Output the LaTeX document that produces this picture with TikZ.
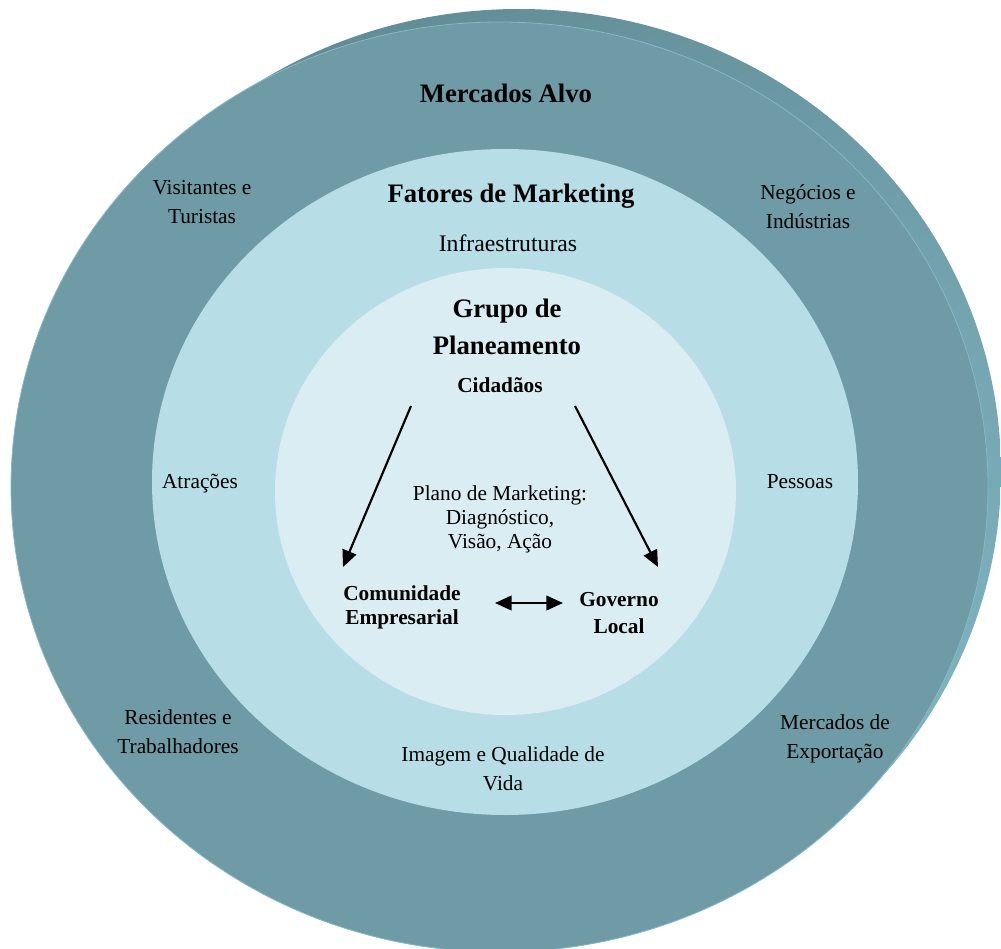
\documentclass[tikz,border=0pt]{standalone}
\usepackage{fontspec}
\setmainfont{Liberation Serif}
\usetikzlibrary{positioning,arrows.meta,shadings}

\definecolor{anelA}{HTML}{6F9BA7}
\definecolor{anelB}{HTML}{B7DDE7}
\definecolor{anelC}{HTML}{DAEDF3}
\definecolor{fundoE}{HTML}{5B858E}
\definecolor{fundoF}{HTML}{6C9AA4}
\definecolor{fundoG}{HTML}{84BAC7}

\tikzset{
  lbl/.style={align=center, inner sep=0pt, font=\fontsize{16}{21.75}\selectfont},
  hdr/.style={align=center, inner sep=0pt, font=\bfseries\fontsize{20}{27.75}\selectfont},
  bld/.style={align=center, inner sep=0pt, font=\bfseries\fontsize{16}{18}\selectfont},
  seta/.style={-{Triangle[length=12.5pt,width=11pt]}, line width=1.6pt},
  seta2/.style={{Triangle[length=12.5pt,width=11pt]}-{Triangle[length=12.5pt,width=11pt]}, line width=1.6pt},
}

\begin{document}
\begin{tikzpicture}[x=0.75pt,y=-0.75pt]
        \useasboundingbox (0,0) rectangle (1001,949);
        % aneis
        \shade[upper left=fundoE, upper right=fundoF,
               lower left=fundoG, lower right=fundoG]
          (519,472) ellipse [x radius=482, y radius=463];
        \filldraw[fill=anelA, draw=fundoG, line width=0.6pt] (499.5,487) ellipse [x radius=488.5, y radius=465];
        \fill[anelB] (505,482) ellipse [x radius=353, y radius=333];
        \fill[anelC] (505.5,491.5) ellipse [x radius=230.5, y radius=223.5];
        % textos
        \node[hdr] (alvo) at (506,93) {Mercados Alvo};
        \node[lbl] (vis) at (202,202) {Visitantes e\\Turistas};
        \node[lbl] (neg) at (808,207) {Negócios e\\Indústrias};
        \node[lbl] (res) at (178,732) {Residentes e\\Trabalhadores};
        \node[lbl] (exp) at (835,739) {Mercados de\\Exportação};
        \node[hdr] (fat) at (511,196) {Fatores de Marketing};
        \node[lbl, font=\fontsize{17.8}{21.75}\selectfont] (inf) at (508,243) {Infraestruturas};
        \node[lbl] (atr) at (200,484) {Atrações};
        \node[lbl] (pes) at (800,482) {Pessoas};
        \node[lbl] (img) at (503,769) {Imagem e Qualidade de\\Vida};
        \node[hdr] (grp) at (507,326.5) {Grupo de\\Planeamento};
        \node[bld] (cid) at (500,385) {Cidadãos};
        \node[lbl, font=\fontsize{16}{18}\selectfont] (plano) at (500,519)
          {Plano de Marketing:\\Diagnóstico,\\Visão, Ação};
        \node[bld] (com) at (402,607) {Comunidade\\Empresarial};
        \node[bld, font=\bfseries\fontsize{16}{20}\selectfont] (gov) at (619,613) {Governo\\Local};
        % setas
        \coordinate (c1) at (411,406);
        \coordinate (c2) at (575,406);
        \coordinate (p1) at (343,567);
        \coordinate (p2) at (658,567);
        \coordinate (d1) at (495,603);
        \coordinate (d2) at (563,603);
        \draw[seta] (c1) -- (p1);
        \draw[seta] (c2) -- (p2);
        \draw[seta2] (d1) -- (d2);
\end{tikzpicture}
\end{document}
